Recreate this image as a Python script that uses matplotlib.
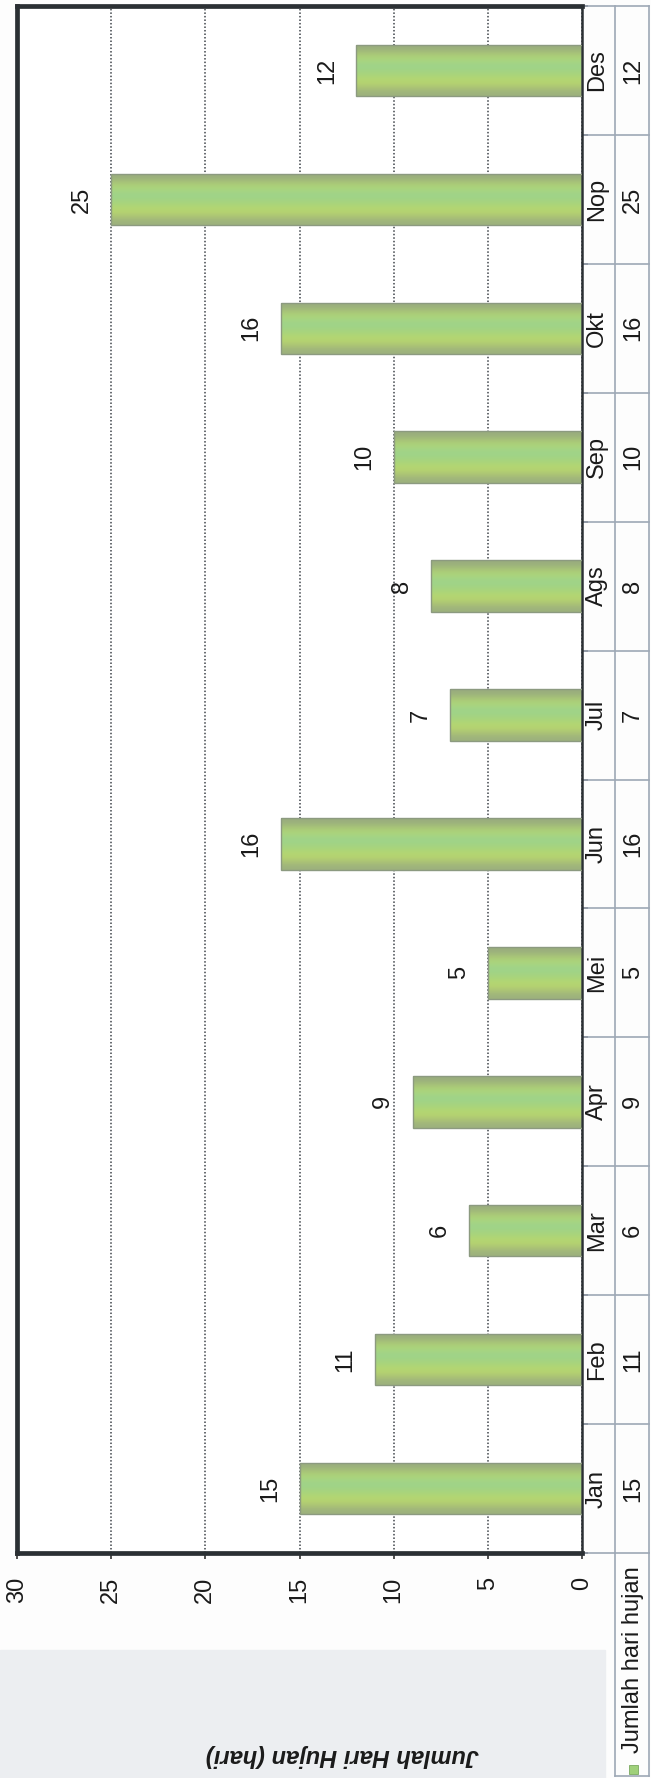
import numpy as np
import matplotlib
matplotlib.use("Agg")
import matplotlib.pyplot as plt
from matplotlib.patches import Rectangle
from matplotlib.lines import Line2D
from matplotlib.colors import to_rgb

plt.rcParams["font.family"] = ["Liberation Sans", "DejaVu Sans"]

bulan = ["Jan", "Feb", "Mar", "Apr", "Mei", "Jun", "Jul", "Ags", "Sep", "Okt", "Nop", "Des"]
hari_hujan = [15, 11, 6, 9, 5, 16, 7, 8, 10, 16, 25, 12]
nilai_tick = [0, 5, 10, 15, 20, 25, 30]
judul_sumbu = "Jumlah Hari Hujan (hari)"
nama_seri = "Jumlah hari hujan"

W, H = 651, 1778
fig = plt.figure(figsize=(W / 100, H / 100), dpi=100)
fig.patch.set_facecolor("#fdfdfd")

# light grey scan tint at the bottom left
fig.patches.append(Rectangle((0, 0), 605 / W, (H - 1650) / H, transform=fig.transFigure,
                             color="#eceef1", zorder=-5))

# plot box in pixels
x0, x1, y_top, y_bot = 17, 582, 6, 1553
ax = fig.add_axes([x0 / W, 1 - y_bot / H, (x1 - x0) / W, (y_bot - y_top) / H])
ax.set_facecolor("white")

pos = np.arange(len(bulan))
bars = ax.barh(pos, hari_hujan, height=0.4, color="none", edgecolor="#8c9a80", linewidth=1.0, zorder=3)

# gradient fill across bar thickness
stops = ["#9cb07e", "#bcd96c", "#a9d47a", "#9ad290", "#b4d873", "#98ab7e"]
grad = np.array([to_rgb(c) for c in stops])[:, None, :]
for b in bars:
    im = ax.imshow(grad, extent=(b.get_x(), b.get_x() + b.get_width(), b.get_y(), b.get_y() + b.get_height()),
                   origin="lower", aspect="auto", interpolation="bicubic", zorder=2)
    im.set_clip_path(b)

for i, v in enumerate(hari_hujan):
    ax.annotate(str(v), (v, i), xytext=(-21, 0), textcoords="offset points",
                rotation=90, ha="center", va="center", fontsize=17, color="#1a1a1a")

ax.set_xlim(30, 0)
ax.set_ylim(-0.5, len(bulan) - 0.5)
ax.set_xticks(nilai_tick)
ax.set_xticklabels([str(t) for t in nilai_tick], rotation=90, fontsize=17, color="#1a1a1a")
ax.tick_params(axis="x", direction="out", length=4, width=1.2, pad=13, color="#333")
ax.set_yticks(np.arange(-0.5, len(bulan), 1.0))
ax.set_yticklabels([])
ax.tick_params(axis="y", left=False, right=True, direction="out", length=4, width=1.2, color="#333")

ax.grid(axis="x", linestyle=(0, (1, 1.3)), color="#3f444a", linewidth=1.1, zorder=1)
ax.set_axisbelow(True)

for s in ["left", "top", "bottom"]:
    ax.spines[s].set_linewidth(3.4)
    ax.spines[s].set_color("#2b3034")
ax.spines["right"].set_linewidth(1.8)
ax.spines["right"].set_color("#2b3034")

ax.set_xlabel(judul_sumbu, fontsize=17, fontweight="bold", fontstyle="italic", rotation=180, color="#1a1a1a")
ax.xaxis.set_label_coords((342 - x0) / (x1 - x0), -(1756 - y_bot) / (y_bot - y_top))
ax.xaxis.label.set_va("center")

# data table on the right
yt = ax.get_yaxis_transform()
cx_nama = (597 - x0) / (x1 - x0)
cx_nilai = (633 - x0) / (x1 - x0)
x_sep = (615 - x0) / (x1 - x0)
x_end = (649 - x0) / (x1 - x0)
tcol = "#9ea8b6"
for i, (b, v) in enumerate(zip(bulan, hari_hujan)):
    ax.text(cx_nama, i, b, transform=yt, rotation=90, ha="center", va="center", fontsize=17, color="#1a1a1a")
    ax.text(cx_nilai, i, str(v), transform=yt, rotation=90, ha="center", va="center", fontsize=17, color="#1a1a1a")
for yb in np.arange(-0.5, len(bulan), 1.0):
    ax.add_line(Line2D([1.0, x_end], [yb, yb], transform=yt, color=tcol, lw=1.2, clip_on=False))
ax.add_line(Line2D([x_sep, x_sep], [-0.5, len(bulan) - 0.5], transform=yt, color=tcol, lw=1.2, clip_on=False))
ax.add_line(Line2D([x_end, x_end], [-0.5, len(bulan) - 0.5], transform=yt, color=tcol, lw=1.2, clip_on=False))

# row header cell for the series
ft = fig.transFigure
for xs, ys in [([615, 615], [y_bot, 1776]), ([649, 649], [y_bot, 1776]), ([615, 649], [1776, 1776])]:
    fig.add_artist(Line2D([x / W for x in xs], [1 - y / H for y in ys], transform=ft, color=tcol, lw=1.2))
fig.text(633 / W, 1 - 1660 / H, nama_seri, rotation=90, ha="center", va="center", fontsize=17, color="#1a1a1a")
fig.patches.append(Rectangle(((633 - 4.5) / W, 1 - 1774 / H), 9 / W, 9 / H, transform=ft,
                             facecolor="#9fd07a", edgecolor="#7aa860", lw=0.6))

fig.savefig("out.png", dpi=100, facecolor=fig.get_facecolor())
